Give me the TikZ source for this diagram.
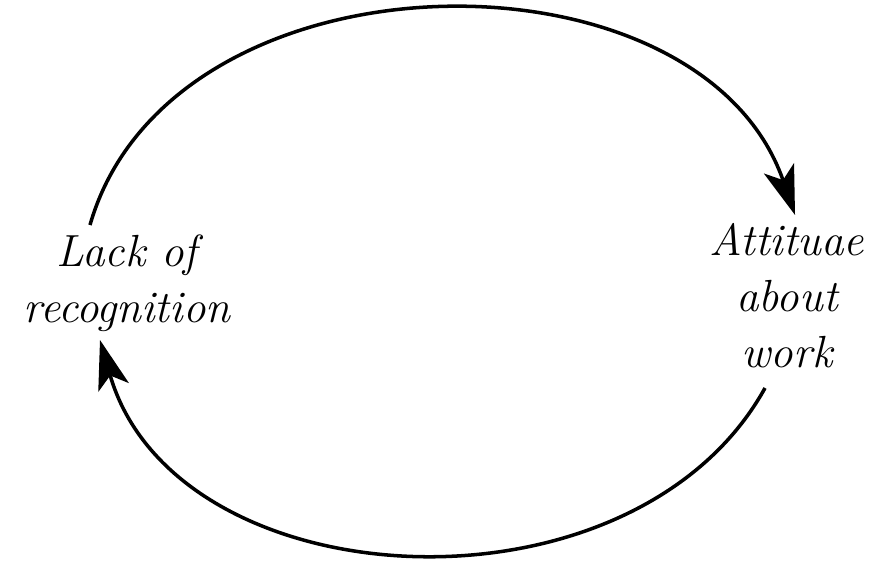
\documentclass[tikz,border=0pt]{standalone}
\usepackage{tikz}
\usetikzlibrary{arrows.meta}
\tikzset{loopvar/.style={align=center, font=\fontsize{12.8}{15.9}\selectfont\itshape}}
\tikzset{link/.style={line width=1pt, -{Stealth[length=14pt, width=9pt, inset=3.5pt]}}}

\begin{document}
\begin{tikzpicture}[x=0.01cm, y=0.01cm]
\useasboundingbox (0,0) rectangle (874,569);
\node[loopvar] (lack) at (127,286) {Lack of\\recognition};
\node[loopvar] (att) at (787,273) {Attituae\\about\\work};
\coordinate (ls) at (90,344);
\coordinate (ae) at (795,354);
\coordinate (as) at (765,181);
\coordinate (le) at (100,229);
\draw[link] (ls) to[out=74, in=109, looseness=1.06] (ae);
\draw[link] (as) to[out=241, in=-74, looseness=1.05] (le);
\end{tikzpicture}
\end{document}
